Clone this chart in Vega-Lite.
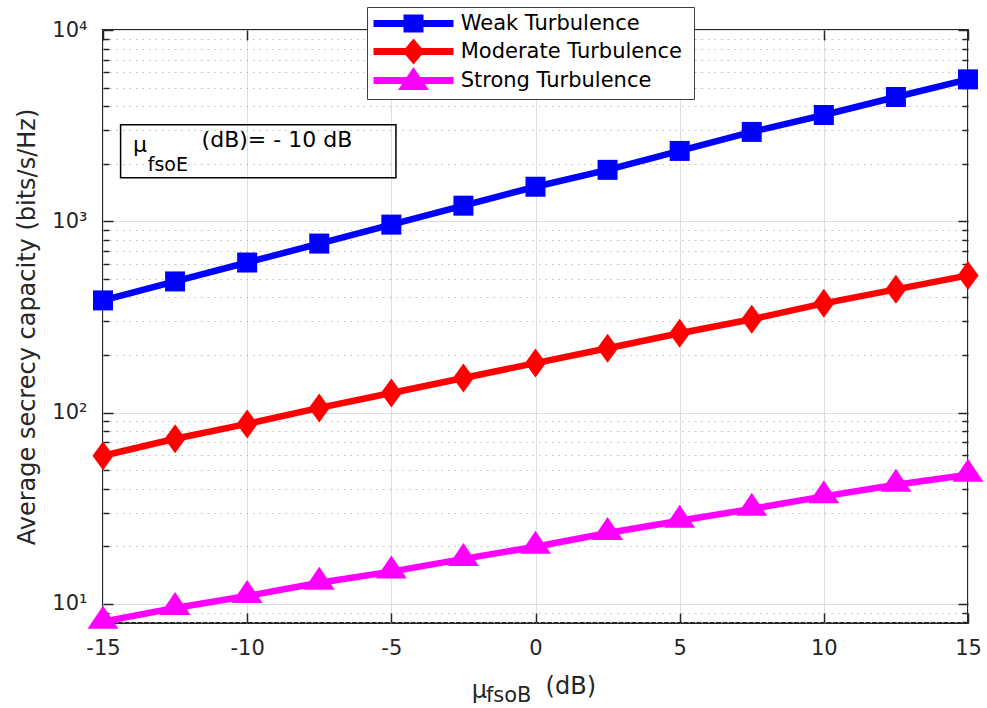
{
  "$schema": "https://vega.github.io/schema/vega-lite/v6.json",
  "autosize": {"type": "none"},
  "width": 865,
  "height": 593,
  "padding": {"left": 103, "top": 30, "right": 19, "bottom": 85},
  "background": "white",
  "config": {
    "view": {"stroke": "#262626", "strokeWidth": 2},
    "font": "DejaVu Sans",
    "axis": {"labelFont": "DejaVu Sans", "titleFont": "DejaVu Sans", "labelColor": "#262626", "titleColor": "#262626", "tickColor": "#262626", "tickWidth": 1.5, "labelFlush": false}
  },
  "datasets": {
    "capacity": [
      {"mu_fsoB": -15, "series": "Weak Turbulence", "capacity": 386},
      {"mu_fsoB": -12.5, "series": "Weak Turbulence", "capacity": 485},
      {"mu_fsoB": -10, "series": "Weak Turbulence", "capacity": 609},
      {"mu_fsoB": -7.5, "series": "Weak Turbulence", "capacity": 765},
      {"mu_fsoB": -5, "series": "Weak Turbulence", "capacity": 961},
      {"mu_fsoB": -2.5, "series": "Weak Turbulence", "capacity": 1207},
      {"mu_fsoB": 0, "series": "Weak Turbulence", "capacity": 1516},
      {"mu_fsoB": 2.5, "series": "Weak Turbulence", "capacity": 1858},
      {"mu_fsoB": 5, "series": "Weak Turbulence", "capacity": 2333},
      {"mu_fsoB": 7.5, "series": "Weak Turbulence", "capacity": 2933},
      {"mu_fsoB": 10, "series": "Weak Turbulence", "capacity": 3595},
      {"mu_fsoB": 12.5, "series": "Weak Turbulence", "capacity": 4466},
      {"mu_fsoB": 15, "series": "Weak Turbulence", "capacity": 5520},
      {"mu_fsoB": -15, "series": "Moderate Turbulence", "capacity": 59.5},
      {"mu_fsoB": -12.5, "series": "Moderate Turbulence", "capacity": 73},
      {"mu_fsoB": -10, "series": "Moderate Turbulence", "capacity": 87.3},
      {"mu_fsoB": -7.5, "series": "Moderate Turbulence", "capacity": 105.8},
      {"mu_fsoB": -5, "series": "Moderate Turbulence", "capacity": 126.6},
      {"mu_fsoB": -2.5, "series": "Moderate Turbulence", "capacity": 151.6},
      {"mu_fsoB": 0, "series": "Moderate Turbulence", "capacity": 181.5},
      {"mu_fsoB": 2.5, "series": "Moderate Turbulence", "capacity": 217},
      {"mu_fsoB": 5, "series": "Moderate Turbulence", "capacity": 260},
      {"mu_fsoB": 7.5, "series": "Moderate Turbulence", "capacity": 307.6},
      {"mu_fsoB": 10, "series": "Moderate Turbulence", "capacity": 372.6},
      {"mu_fsoB": 12.5, "series": "Moderate Turbulence", "capacity": 440.8},
      {"mu_fsoB": 15, "series": "Moderate Turbulence", "capacity": 521.6},
      {"mu_fsoB": -15, "series": "Strong Turbulence", "capacity": 8.08},
      {"mu_fsoB": -12.5, "series": "Strong Turbulence", "capacity": 9.53},
      {"mu_fsoB": -10, "series": "Strong Turbulence", "capacity": 11.0},
      {"mu_fsoB": -7.5, "series": "Strong Turbulence", "capacity": 12.9},
      {"mu_fsoB": -5, "series": "Strong Turbulence", "capacity": 14.76},
      {"mu_fsoB": -2.5, "series": "Strong Turbulence", "capacity": 17.2},
      {"mu_fsoB": 0, "series": "Strong Turbulence", "capacity": 19.9},
      {"mu_fsoB": 2.5, "series": "Strong Turbulence", "capacity": 23.5},
      {"mu_fsoB": 5, "series": "Strong Turbulence", "capacity": 27.2},
      {"mu_fsoB": 7.5, "series": "Strong Turbulence", "capacity": 31.4},
      {"mu_fsoB": 10, "series": "Strong Turbulence", "capacity": 36.5},
      {"mu_fsoB": 12.5, "series": "Strong Turbulence", "capacity": 42.0},
      {"mu_fsoB": 15, "series": "Strong Turbulence", "capacity": 47.3}
    ],
    "box": [
      {"x1": -14.39, "x2": -4.84, "y1": 1691, "y2": 3199}
    ],
    "labels": [
      {"x": -13.96, "y": 2312, "text": "μ", "role": "note"},
      {"x": -13.45, "y": 1824, "text": "fsoE", "role": "note_sub"},
      {"x": -11.58, "y": 2460, "text": "(dB)= - 10 dB", "role": "note"},
      {"x": -2.21, "y": 3.22, "text": "μ", "role": "axis_title"},
      {"x": -1.72, "y": 3.08, "text": "fsoB", "role": "axis_title_sub"},
      {"x": 0.35, "y": 3.38, "text": "(dB)", "role": "axis_title"}
    ]
  },
  "resolve": {"axis": {"x": "independent", "y": "independent"}},
  "layer": [
    {
      "data": {"name": "capacity"},
      "mark": {"type": "line", "strokeWidth": 6.5, "clip": false},
      "encoding": {
        "x": {
          "field": "mu_fsoB", "type": "quantitative",
          "scale": {"domain": [-15, 15], "nice": false, "zero": false},
          "axis": {
            "orient": "bottom", "title": null, "values": [-15, -10, -5, 0, 5, 10, 15],
            "labelExpr": "'' + datum.value", "labelFontSize": 21, "labelPadding": 24,
            "domain": false, "tickSize": -10, "grid": true, "gridColor": "#dedede", "gridWidth": 1
          }
        },
        "y": {
          "field": "capacity", "type": "quantitative",
          "scale": {"type": "log", "domain": [7.95, 10000], "nice": false, "zero": false},
          "axis": {
            "orient": "left", "title": "Average secrecy capacity (bits/s/Hz)",
            "titleFontSize": 24, "titleFontWeight": "normal", "titlePadding": 12,
            "values": [8, 9, 10, 20, 30, 40, 50, 60, 70, 80, 90, 100, 200, 300, 400, 500, 600, 700, 800, 900, 1000, 2000, 3000, 4000, 5000, 6000, 7000, 8000, 9000, 10000],
            "labelExpr": "abs(log(datum.value)/LN10 - round(log(datum.value)/LN10)) < 0.001 ? '10' + (round(log(datum.value)/LN10) == 1 ? '¹' : round(log(datum.value)/LN10) == 2 ? '²' : round(log(datum.value)/LN10) == 3 ? '³' : '⁴') : ''",
            "labelFontSize": 21, "labelPadding": 26, "labelBaseline": "middle",
            "domain": false,
            "tickSize": {"condition": {"test": "abs(log(datum.value)/LN10 - round(log(datum.value)/LN10)) < 0.001", "value": -10}, "value": -6},
            "grid": true,
            "gridColor": {"condition": {"test": "abs(log(datum.value)/LN10 - round(log(datum.value)/LN10)) < 0.001", "value": "#dedede"}, "value": "#bdbdbd"},
            "gridDash": {"condition": {"test": "abs(log(datum.value)/LN10 - round(log(datum.value)/LN10)) < 0.001", "value": []}, "value": [1.5, 5]},
            "gridWidth": 1
          }
        },
        "color": {
          "field": "series", "type": "nominal",
          "scale": {"domain": ["Weak Turbulence", "Moderate Turbulence", "Strong Turbulence"], "range": ["#0000ff", "#ff0000", "#ff00ff"]},
          "legend": {
            "orient": "none", "legendX": 264, "legendY": -23, "title": null,
            "direction": "vertical",
            "symbolSize": 400, "symbolStrokeWidth": 0, "symbolType": "square",
            "labelFont": "DejaVu Sans", "labelFontSize": 21, "labelColor": "#000000", "labelOffset": 66.7, "labelLimit": 400,
            "padding": 6, "rowPadding": 0,
            "strokeColor": "#404040", "fillColor": "white",
            "encode": {
              "symbols": {
                "update": {
                  "shape": {"signal": "datum.value === 'Weak Turbulence' ? 'M-1.8,-1.5M30.4,1.25M-1,-0.35H7V0.35H-1Z M2,-0.9H4V0.9H2Z' : datum.value === 'Moderate Turbulence' ? 'M-1.8,-1.5M30.4,1.25M-1,-0.35H7V0.35H-1Z M3,-1.3L4.1,0L3,1.3L1.9,0Z' : 'M-1.8,-1.5M30.4,1.25M-1,-0.35H7V0.35H-1Z M1.45,0.95L3,-1.35L4.55,0.95Z'"},
                  "fill": {"scale": "color", "field": "value"},
                  "fillOpacity": {"value": 1},
                  "strokeWidth": {"value": 0}
                }
              }
            }
          }
        }
      }
    },
    {
      "data": {"name": "capacity"},
      "transform": [{"filter": "datum.series === 'Weak Turbulence'"}],
      "mark": {"type": "point", "filled": true, "size": 400, "opacity": 1, "strokeWidth": 0, "clip": false, "shape": "M-1,-1H1V1H-1Z"},
      "encoding": {
        "x": {
          "field": "mu_fsoB", "type": "quantitative",
          "axis": {"orient": "top", "title": null, "labels": false, "domain": false, "grid": false, "values": [-15, -10, -5, 0, 5, 10, 15], "tickSize": -10}
        },
        "y": {
          "field": "capacity", "type": "quantitative",
          "axis": {
            "orient": "right", "title": null, "labels": false, "domain": false, "grid": false,
            "values": [8, 9, 10, 20, 30, 40, 50, 60, 70, 80, 90, 100, 200, 300, 400, 500, 600, 700, 800, 900, 1000, 2000, 3000, 4000, 5000, 6000, 7000, 8000, 9000, 10000],
            "tickSize": {"condition": {"test": "abs(log(datum.value)/LN10 - round(log(datum.value)/LN10)) < 0.001", "value": -10}, "value": -6}
          }
        },
        "color": {"field": "series", "type": "nominal"}
      }
    },
    {
      "data": {"name": "capacity"},
      "transform": [{"filter": "datum.series === 'Moderate Turbulence'"}],
      "mark": {"type": "point", "filled": true, "size": 400, "opacity": 1, "strokeWidth": 0, "clip": false, "shape": "M0,-1.45L1.05,0L0,1.45L-1.05,0Z"},
      "encoding": {
        "x": {"field": "mu_fsoB", "type": "quantitative", "axis": null},
        "y": {"field": "capacity", "type": "quantitative", "axis": null},
        "color": {"field": "series", "type": "nominal"}
      }
    },
    {
      "data": {"name": "capacity"},
      "transform": [{"filter": "datum.series === 'Strong Turbulence'"}],
      "mark": {"type": "point", "filled": true, "size": 400, "opacity": 1, "strokeWidth": 0, "clip": false, "shape": "M-1.55,0.7L0,-1.6L1.55,0.7Z"},
      "encoding": {
        "x": {"field": "mu_fsoB", "type": "quantitative", "axis": null},
        "y": {"field": "capacity", "type": "quantitative", "axis": null},
        "color": {"field": "series", "type": "nominal"}
      }
    },
    {
      "data": {"name": "box"},
      "mark": {"type": "rect", "fill": null, "fillOpacity": 0, "stroke": "#000000", "strokeWidth": 1.5},
      "encoding": {
        "x": {"field": "x1", "type": "quantitative", "axis": null},
        "x2": {"field": "x2"},
        "y": {"field": "y1", "type": "quantitative", "axis": null},
        "y2": {"field": "y2"}
      }
    },
    {
      "data": {"name": "labels"},
      "transform": [{"filter": "datum.role === 'note'"}],
      "mark": {"type": "text", "align": "left", "baseline": "alphabetic", "font": "DejaVu Sans", "fontSize": 22, "color": "#000000"},
      "encoding": {
        "x": {"field": "x", "type": "quantitative", "axis": null},
        "y": {"field": "y", "type": "quantitative", "axis": null},
        "text": {"field": "text"}
      }
    },
    {
      "data": {"name": "labels"},
      "transform": [{"filter": "datum.role === 'note_sub'"}],
      "mark": {"type": "text", "align": "left", "baseline": "alphabetic", "font": "DejaVu Sans", "fontSize": 19, "color": "#000000"},
      "encoding": {
        "x": {"field": "x", "type": "quantitative", "axis": null},
        "y": {"field": "y", "type": "quantitative", "axis": null},
        "text": {"field": "text"}
      }
    },
    {
      "data": {"name": "labels"},
      "transform": [{"filter": "datum.role === 'axis_title'"}],
      "mark": {"type": "text", "align": "left", "baseline": "alphabetic", "font": "DejaVu Sans", "fontSize": 24, "color": "#262626"},
      "encoding": {
        "x": {"field": "x", "type": "quantitative", "axis": null},
        "y": {"field": "y", "type": "quantitative", "axis": null},
        "text": {"field": "text"}
      }
    },
    {
      "data": {"name": "labels"},
      "transform": [{"filter": "datum.role === 'axis_title_sub'"}],
      "mark": {"type": "text", "align": "left", "baseline": "alphabetic", "font": "DejaVu Sans", "fontSize": 21, "color": "#262626"},
      "encoding": {
        "x": {"field": "x", "type": "quantitative", "axis": null},
        "y": {"field": "y", "type": "quantitative", "axis": null},
        "text": {"field": "text"}
      }
    }
  ]
}
